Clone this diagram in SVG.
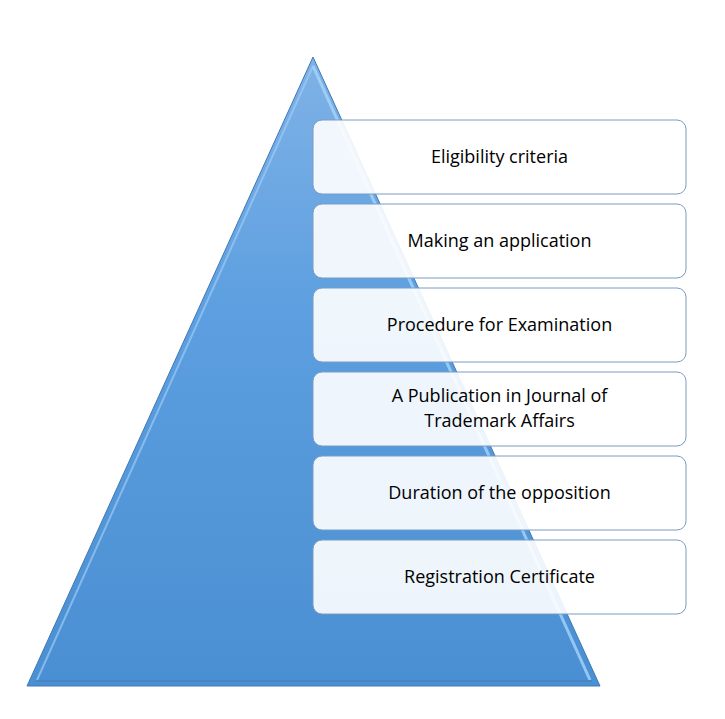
<svg xmlns="http://www.w3.org/2000/svg" width="725" height="719" viewBox="0 0 725 719">
<defs>
<linearGradient id="tg" x1="0" y1="0" x2="0" y2="1">
<stop offset="0" stop-color="#7fb2e6"/><stop offset="0.4" stop-color="#5d9fe0"/><stop offset="1" stop-color="#4a8fd2"/>
</linearGradient>
<linearGradient id="bg" x1="0" y1="0" x2="1" y2="0">
<stop offset="0" stop-color="#ffffff" stop-opacity="0.92"/><stop offset="1" stop-color="#ffffff" stop-opacity="0.92"/>
</linearGradient>
</defs>
<style>
.box{fill:#ffffff;fill-opacity:0.9;stroke:#7a9cc0;stroke-width:1}
.t{font-family:"Open Sans","Noto Sans",sans-serif;font-size:18px;fill:#000;text-anchor:middle}
</style>
<rect width="725" height="719" fill="#ffffff"/>
<g id="pyramid">
<polygon points="313,57 600,686 27,686" fill="url(#tg)" stroke="#3f78b4" stroke-width="1"/>
<polyline points="313,66 590,680" fill="none" stroke="#a8d4fa" stroke-width="3" opacity="0.8"/>
<polyline points="313,66 37,680" fill="none" stroke="#9ccaf5" stroke-width="2" opacity="0.7"/>
<line x1="36" y1="681" x2="592" y2="681" stroke="#3f7fc0" stroke-width="2" opacity="0.6"/>
</g>
<g id="n1"><rect class="box" x="313" y="120" width="373" height="74" rx="9"/><text class="t" x="499.5" y="163">Eligibility criteria</text></g>
<g id="n2"><rect class="box" x="313" y="204" width="373" height="74" rx="9"/><text class="t" x="499.5" y="247">Making an application</text></g>
<g id="n3"><rect class="box" x="313" y="288" width="373" height="74" rx="9"/><text class="t" x="499.5" y="331">Procedure for Examination</text></g>
<g id="n4"><rect class="box" x="313" y="372" width="373" height="74" rx="9"/><text class="t" x="499.5" y="402">A Publication in Journal of</text><text class="t" x="499.5" y="427">Trademark Affairs</text></g>
<g id="n5"><rect class="box" x="313" y="456" width="373" height="74" rx="9"/><text class="t" x="499.5" y="499">Duration of the opposition</text></g>
<g id="n6"><rect class="box" x="313" y="540" width="373" height="74" rx="9"/><text class="t" x="499.5" y="583">Registration Certificate</text></g>
<g id="connectors"/>
</svg>
